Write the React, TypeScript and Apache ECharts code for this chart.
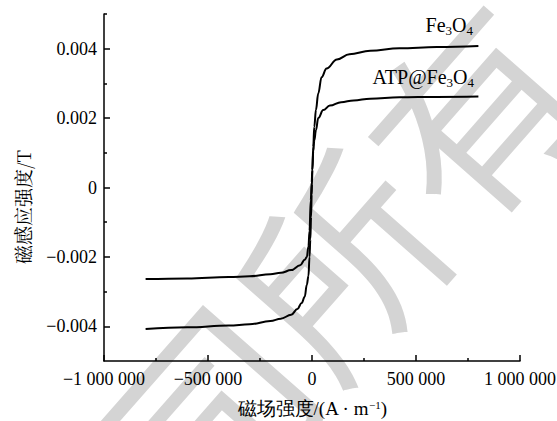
import React, { useEffect, useRef } from 'react';
import * as echarts from 'echarts';

// Magnetic field strength H (A/m) and flux density B (T)
const fe3o4H = [-800000, -600000, -400000, -300000, -200000, -150000, -100000, -70000, -50000, -35000, -25000, -17000, -12000, -8000, -4500, -1500, 0, 1500, 6000, 11000, 19000, 30000, 46000, 70000, 120000, 180000, 280000, 420000, 600000, 800000];
const fe3o4B = [-0.00408, -0.00403, -0.00398, -0.00394, -0.00385, -0.00378, -0.00367, -0.0035, -0.00333, -0.00315, -0.0028, -0.00255, -0.002, -0.0015, -0.00085, -0.0002, 0.0001, 0.0005, 0.00117, 0.00175, 0.00224, 0.00271, 0.00318, 0.00343, 0.00369, 0.00384, 0.00394, 0.00401, 0.00405, 0.00408];
const atpH = [-800000, -600000, -400000, -300000, -200000, -150000, -100000, -57000, -35000, -25000, -17000, -12000, -6000, -1500, 1500, 6000, 11000, 19000, 30000, 54000, 86000, 140000, 200000, 280000, 420000, 600000, 800000];
const atpB = [-0.00264, -0.00262, -0.00258, -0.00256, -0.0025, -0.00246, -0.00238, -0.00224, -0.00208, -0.002, -0.0017, -0.00125, -0.00037, 0.00015, 0.0005, 0.00105, 0.00135, 0.00165, 0.002, 0.00223, 0.00236, 0.00246, 0.00251, 0.00256, 0.0026, 0.00261, 0.00262];

const xTickValues = [-1000000, -500000, 0, 500000, 1000000];
const yLabelValues = [-0.004, -0.002, 0, 0.002, 0.004];
const yMinorValues = [-0.003, -0.001, 0.001, 0.003, 0.005];

const seriesNames = ['Fe3O4', 'ATP@Fe3O4'];
const xTitle = '磁场强度/(A · m{sup|−1})';
const yTitle = '磁感应强度/T';
const watermark = '司所有';

const serif = '"Liberation Serif", "Times New Roman", serif';
const cjkSerif = '"Noto Serif CJK SC", "Noto Sans CJK SC", serif';

const fmtX = (v: number) => {
  const s = Math.abs(v).toString().replace(/\B(?=(\d{3})+(?!\d))/g, ' ');
  return (v < 0 ? '−' : '') + s;
};
const fmtY = (v: number) => {
  if (Math.abs(v) < 1e-12) return '0';
  return (v < 0 ? '−' : '') + Math.abs(v).toFixed(3);
};

export default function App() {
  const ref = useRef<HTMLDivElement>(null);
  useEffect(() => {
    document.body.style.margin = '0';
    const chart = echarts.init(ref.current!, null, { renderer: 'svg' });
    const pairs = (xs: number[], ys: number[]) => xs.map((x, i) => [x, ys[i]]);
    chart.setOption({
      animation: false,
      backgroundColor: '#fff',
      grid: { left: 104, right: 37, top: 14, bottom: 60, containLabel: false, outerBoundsMode: 'none' },
      xAxis: {
        type: 'value',
        min: -1000000,
        max: 1000000,
        interval: 500000,
        axisLine: { show: true, onZero: false, lineStyle: { color: '#000', width: 1.5 } },
        axisTick: { show: true, inside: true, length: 6, lineStyle: { color: '#000', width: 1.5 } },
        minorTick: { show: true, splitNumber: 2, length: 3, lineStyle: { color: '#000', width: 1.5 } },
        splitLine: { show: false },
        axisLabel: {
          customValues: xTickValues,
          formatter: fmtX,
          color: '#000',
          fontFamily: serif,
          fontSize: 18,
          margin: 9,
        },
        name: xTitle,
        nameLocation: 'middle',
        nameGap: 38,
        nameTextStyle: {
          color: '#000',
          fontFamily: serif,
          fontSize: 19,
          rich: {
            sup: { fontSize: 11, fontFamily: serif, color: '#000', verticalAlign: 'top' },
          },
        },
      },
      yAxis: [
        {
          type: 'value',
          min: -0.005,
          max: 0.005,
          interval: 0.001,
          axisLine: { show: true, onZero: false, lineStyle: { color: '#000', width: 1.5 } },
          axisTick: { show: true, inside: true, length: 6, customValues: yLabelValues, lineStyle: { color: '#000', width: 1.5 } },
          splitLine: { show: false },
          axisLabel: {
            customValues: yLabelValues,
            formatter: fmtY,
            color: '#000',
            fontFamily: serif,
            fontSize: 18,
            margin: 7,
          },
        },
        {
          type: 'value',
          position: 'left',
          min: -0.005,
          max: 0.005,
          interval: 0.001,
          axisLine: { show: false, onZero: false },
          axisTick: { show: true, inside: true, length: 3, customValues: yMinorValues, lineStyle: { color: '#000', width: 1.5 } },
          splitLine: { show: false },
          axisLabel: { show: false },
        },
      ],
      series: [
        {
          name: seriesNames[0],
          type: 'line',
          data: pairs(fe3o4H, fe3o4B),
          showSymbol: false,
          smooth: 0.4,
          smoothMonotone: 'x',
          lineStyle: { color: '#000', width: 2 },
          z: 3,
        },
        {
          name: seriesNames[1],
          type: 'line',
          data: pairs(atpH, atpB),
          showSymbol: false,
          smooth: 0.4,
          smoothMonotone: 'x',
          lineStyle: { color: '#000', width: 2 },
          z: 3,
        },
      ],
      graphic: [
        {
          type: 'text',
          x: 335,
          y: 258,
          rotation: 0.85,
          z: 0,
          silent: true,
          style: {
            text: watermark,
            fill: '#d4d4d4',
            font: `200px "Noto Sans CJK SC"`,
            align: 'center',
            verticalAlign: 'middle',
          },
        },
        {
          type: 'text',
          right: 84,
          top: 15,
          z: 10,
          style: {
            text: 'Fe{s|3}O{s|4}',
            fill: '#000',
            font: `20px ${serif}`,
            rich: {
              s: { fontSize: 13, fontFamily: serif, fill: '#000', verticalAlign: 'top', padding: [11, 0, 0, 0] },
            },
            verticalAlign: 'top',
          },
        },
        {
          type: 'text',
          right: 83,
          top: 67,
          z: 10,
          style: {
            text: 'ATP@Fe{s|3}O{s|4}',
            fill: '#000',
            font: `20px ${serif}`,
            rich: {
              s: { fontSize: 13, fontFamily: serif, fill: '#000', verticalAlign: 'top', padding: [11, 0, 0, 0] },
            },
            verticalAlign: 'top',
          },
        },
        {
          type: 'text',
          x: 22,
          y: 207,
          rotation: Math.PI / 2,
          z: 10,
          style: {
            text: yTitle,
            fill: '#000',
            font: `19px ${cjkSerif}`,
            align: 'center',
            verticalAlign: 'middle',
          },
        },
      ],
    });
    return () => chart.dispose();
  }, []);
  return <div ref={ref} style={{ position: 'absolute', left: 0, top: 0, width: 557, height: 421 }} />;
}
